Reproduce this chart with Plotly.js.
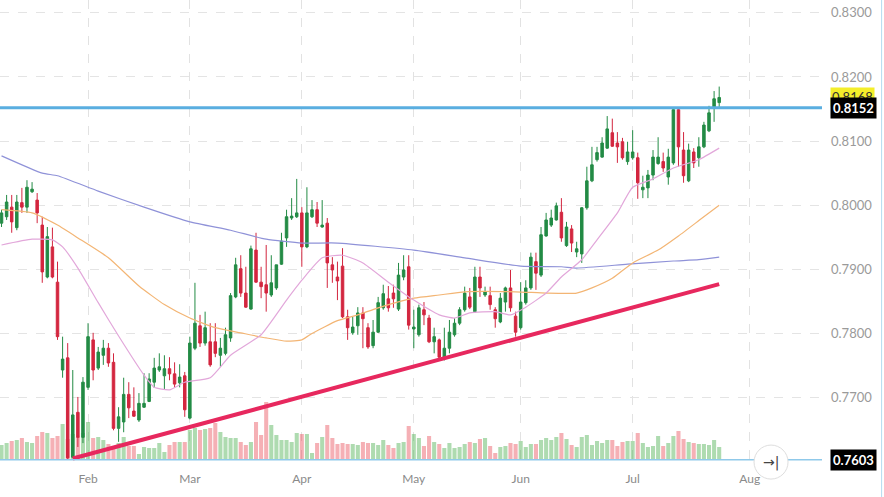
<!DOCTYPE html>
<html>
<head>
<meta charset="utf-8">
<script src="https://cdn.plot.ly/plotly-3.0.1.min.js"></script>
<style>
  html, body { margin: 0; padding: 0; background: #fff; }
  #chart { width: 884px; height: 497px; }
</style>
</head>
<body>
<div id="chart"></div>
<script>
// daily candles, one per trading day (Jan 8 .. Jul 24)
const open = [
  .7972, .7982, .7997, .7965, .8004, .7997, .8021, .8008, .7969, .7888,
  .7935, .7880, .7743, .7762, .7607, .7677, .7638, .7716, .7790, .7746,
  .7766, .7777, .7755, .7652, .7662, .7705, .7679, .7665, .7685, .7694,
  .7724, .7743, .7734, .7745, .7737, .7723, .7734, .7668, .7777, .7812,
  .7785, .7787, .7787, .7766, .7769, .7793, .7857, .7901, .7863, .7838,
  .7930, .7880, .7876, .7860, .7871, .7908, .7949, .7980, .7982, .7988,
  .7935, .7982, .7993, .7966, .7972, .7907, .7888, .7905, .7826, .7801,
  .7812, .7832, .7809, .7781, .7802, .7840, .7854, .7863, .7838, .7888,
  .7904, .7807, .7798, .7837, .7824, .7787, .7790, .7763, .7777, .7798,
  .7816, .7837, .7857, .7834, .7888, .7860, .7859, .7837, .7818, .7849,
  .7871, .7827, .7809, .7848, .7871, .7912, .7891, .7952, .7969, .7977,
  .7989, .7937, .7963, .7927, .7924, .7996, .8038, .8071, .8075, .8089,
  .8113, .8097, .8099, .8068, .8074, .8074, .8024, .8027, .8047, .8065,
  .8068, .8044, .8066, .8149, .8086, .8038, .8083, .8074, .8091, .8116,
  .8152, .8160
];
const high = [
  .7993, .8016, .8016, .8016, .8027, .8039, .8036, .8019, .7982, .7966,
  .7965, .7912, .7795, .7785, .7743, .7701, .7732, .7816, .7801, .7779,
  .7790, .7785, .7769, .7685, .7731, .7724, .7716, .7707, .7738, .7738,
  .7762, .7769, .7766, .7763, .7755, .7752, .7740, .7795, .7879, .7829,
  .7834, .7816, .7816, .7793, .7809, .7863, .7918, .7922, .7904, .7937,
  .7957, .7904, .7938, .7922, .7907, .7957, .7993, .8011, .8041, .7997,
  .8028, .8008, .8005, .8008, .7980, .7919, .7912, .7933, .7837, .7826,
  .7841, .7841, .7816, .7821, .7857, .7876, .7874, .7876, .7910, .7922,
  .7922, .7837, .7845, .7849, .7829, .7809, .7792, .7809, .7821, .7824,
  .7841, .7873, .7871, .7904, .7904, .7873, .7873, .7841, .7863, .7873,
  .7899, .7834, .7880, .7883, .7926, .7926, .7966, .7988, .7993, .8004,
  .8011, .7974, .7969, .7943, .7997, .8060, .8091, .8091, .8106, .8139,
  .8135, .8114, .8105, .8099, .8117, .8082, .8046, .8055, .8086, .8106,
  .8082, .8088, .8150, .8151, .8114, .8096, .8089, .8106, .8130, .8155,
  .8178, .8185
];
const low = [
  .7966, .7977, .7957, .7961, .7988, .7988, .8019, .7972, .7879, .7886,
  .7886, .7790, .7731, .7603, .7606, .7623, .7629, .7712, .7727, .7743,
  .7751, .7748, .7649, .7631, .7646, .7668, .7670, .7662, .7684, .7693,
  .7715, .7740, .7712, .7727, .7716, .7716, .7670, .7666, .7774, .7779,
  .7781, .7748, .7763, .7748, .7766, .7787, .7855, .7857, .7840, .7837,
  .7879, .7855, .7834, .7857, .7868, .7907, .7935, .7977, .7980, .7904,
  .7933, .7980, .7966, .7965, .7871, .7879, .7852, .7824, .7790, .7798,
  .7798, .7777, .7776, .7777, .7801, .7837, .7834, .7840, .7835, .7883,
  .7806, .7777, .7795, .7813, .7785, .7769, .7758, .7758, .7769, .7795,
  .7813, .7834, .7838, .7832, .7857, .7857, .7837, .7809, .7816, .7834,
  .7834, .7795, .7806, .7845, .7868, .7868, .7888, .7951, .7966, .7976,
  .7943, .7935, .7927, .7919, .7910, .7993, .8036, .8068, .8074, .8088,
  .8091, .8066, .8071, .8063, .8071, .8010, .8011, .8011, .8039, .8063,
  .8052, .8032, .8063, .8060, .8035, .8036, .8058, .8060, .8089, .8114,
  .8130, .8153
];
const close = [
  .7988, .8005, .7974, .8005, .7997, .8028, .8025, .7988, .7896, .7951,
  .7888, .7795, .7760, .7606, .7673, .7638, .7724, .7795, .7743, .7771,
  .7777, .7754, .7652, .7670, .7705, .7684, .7671, .7691, .7691, .7729,
  .7746, .7748, .7745, .7737, .7721, .7732, .7681, .7785, .7816, .7785,
  .7809, .7751, .7769, .7777, .7798, .7859, .7907, .7863, .7841, .7932,
  .7880, .7873, .7863, .7879, .7907, .7944, .7982, .7983, .7988, .7935,
  .7988, .7993, .7972, .7969, .7910, .7899, .7882, .7826, .7809, .7810,
  .7832, .7823, .7779, .7802, .7848, .7862, .7840, .7854, .7891, .7899,
  .7813, .7810, .7840, .7829, .7787, .7795, .7763, .7777, .7802, .7816,
  .7837, .7863, .7841, .7888, .7871, .7865, .7845, .7823, .7855, .7871,
  .7840, .7802, .7849, .7871, .7919, .7894, .7954, .7977, .7980, .7999,
  .7949, .7966, .7941, .7932, .7996, .8038, .8063, .8082, .8097, .8119,
  .8092, .8091, .8074, .8083, .8083, .8035, .8028, .8047, .8075, .8075,
  .8058, .8075, .8149, .8091, .8046, .8086, .8066, .8091, .8125, .8144,
  .8166, .8168
];
const volume = [
  14, 16, 18, 19, 21, 17, 16, 23, 27, 26,
  21, 23, 35, 20, 25, 22, 26, 37, 21, 22,
  19, 15, 12, 16, 22, 13, 13, 5, 12, 11,
  11, 16, 7, 14, 17, 17, 17, 29, 31, 29,
  30, 31, 36, 27, 22, 21, 21, 17, 14, 17,
  37, 24, 57, 34, 24, 19, 19, 17, 26, 25,
  25, 6, 16, 22, 34, 21, 15, 16, 15, 15,
  14, 17, 16, 16, 14, 19, 14, 11, 16, 17,
  33, 25, 21, 13, 23, 17, 15, 11, 16, 11,
  12, 15, 17, 16, 20, 21, 13, 6, 12, 13,
  16, 15, 18, 12, 15, 15, 19, 21, 19, 22,
  26, 20, 14, 12, 22, 24, 14, 18, 16, 19,
  19, 13, 17, 18, 18, 26, 16, 12, 13, 23,
  13, 16, 23, 28, 20, 17, 16, 15, 15, 14,
  19, 12
];

// moving averages (trading-day index, price)
const ma20X = [0, 6, 10, 12, 15, 19, 23, 28, 30, 33, 36, 41, 45, 51, 56, 59, 63, 67, 71, 76, 81, 86, 89, 92, 97, 100, 103, 107, 110, 114, 117, 121, 124, 128, 132, 137, 141];
const ma20Y = [.7938, .7947, .7946, .7935, .7902, .7848, .7796, .7735, .7716, .7712, .7724, .7731, .7766, .7798, .7852, .7883, .7918, .7922, .7910, .7880, .7852, .7829, .7824, .7832, .7834, .7829, .7841, .7863, .7888, .7915, .7946, .7988, .8028, .8041, .8058, .8071, .8089];
const ma50X = [0, 6, 11, 15, 21, 27, 32, 37, 42, 47, 52, 56, 59, 61, 66, 70, 74, 81, 86, 91, 101, 107, 113, 116, 120, 124, 129, 133, 137, 141];
const ma50Y = [.7993, .7988, .7969, .7949, .7918, .7874, .7845, .7824, .7809, .7801, .7793, .7788, .7790, .7800, .7820, .7829, .7840, .7855, .7860, .7865, .7865, .7863, .7863, .7871, .7886, .7910, .7930, .7952, .7976, .8000];
const ma200X = [0, 8, 11, 19, 28, 37, 45, 52, 59, 66, 81, 91, 102, 110, 113, 123, 132, 137, 141];
const ma200Y = [.8077, .8050, .8046, .8022, .7997, .7974, .7961, .7947, .7941, .7941, .7930, .7918, .7905, .7904, .7902, .7908, .7913, .7915, .7919];

// support trend line and levels
const trendX = [14, 141];
const trendY = [.7605, .7877];
const resistance = 0.8152;
const lowLevel = 0.7603;
const lastPrice = 0.8168;

// axis ticks
const monthIdx = [17, 37, 59, 81, 102, 124, 147];
const monthLabels = ['Feb', 'Mar', 'Apr', 'May', 'Jun', 'Jul', 'Aug'];
const priceTicks = [0.77, 0.78, 0.79, 0.80, 0.81, 0.82, 0.83];

const days = close.map((_, k) => k);
const UP = '#238b45';
const DOWN = '#d3263f';

const volColors = close.map((c, k) => c >= open[k] ? 'rgba(76,175,80,0.45)' : 'rgba(229,57,70,0.4)');

const traceVolume = {
    type: 'bar',
    x: days,
    y: volume,
    yaxis: 'y',
    marker: { color: volColors, line: { width: 0 } },
    hoverinfo: 'skip',
    showlegend: false
};

function maTrace(x, y, color) {
    return {
        type: 'scatter',
        mode: 'lines',
        x, y,
        yaxis: 'y2',
        line: { color, width: 1.2, shape: 'spline', smoothing: 0.5 },
        hoverinfo: 'skip',
        showlegend: false
    };
}

const traceCandles = {
    type: 'candlestick',
    x: days,
    open, high, low, close,
    yaxis: 'y2',
    increasing: { line: { color: UP, width: 1 }, fillcolor: UP },
    decreasing: { line: { color: DOWN, width: 1 }, fillcolor: DOWN },
    whiskerwidth: 0,
    hoverinfo: 'skip',
    showlegend: false
};

const traceTrend = {
    type: 'scatter',
    mode: 'lines',
    x: trendX,
    y: trendY,
    yaxis: 'y2',
    line: { color: '#e7285e', width: 4 },
    hoverinfo: 'skip',
    showlegend: false
};

const labelFont = { family: 'Lato, sans-serif', size: 13, color: '#fff' };

const layout = {
    width: 884,
    height: 497,
    margin: { l: 0, r: 62, t: 0, b: 34 },
    paper_bgcolor: '#fff',
    plot_bgcolor: '#fff',
    showlegend: false,
    hovermode: false,
    font: { family: 'Lato, sans-serif' },
    xaxis: {
        range: [-0.3, 161.2],
        tickvals: monthIdx,
        ticktext: monthLabels,
        tickfont: { size: 12, color: '#8a8a8a', family: 'Lato, sans-serif' },
        ticks: 'outside',
        ticklen: 5,
        tickcolor: 'rgba(0,0,0,0)',
        showgrid: true,
        gridcolor: '#e2e2e2',
        griddash: 'dash',
        zeroline: false,
        showline: false,
        rangeslider: { visible: false },
        fixedrange: true
    },
    yaxis: {
        range: [-4, 459],
        visible: false,
        showgrid: false,
        zeroline: false,
        fixedrange: true
    },
    yaxis2: {
        overlaying: 'y',
        side: 'right',
        range: [0.7598, 0.8320],
        tickvals: priceTicks,
        tickformat: '.4f',
        tickfont: { size: 13, color: '#9a9a9a', family: 'Lato, sans-serif' },
        ticklabelstandoff: 8,
        showgrid: true,
        gridcolor: '#e4e4e4',
        griddash: 'dash',
        zeroline: false,
        showline: false,
        fixedrange: true
    },
    shapes: [
        {
            type: 'line', xref: 'paper', yref: 'y2',
            x0: 0, x1: 1, y0: lowLevel, y1: lowLevel,
            line: { color: '#8fc9ea', width: 1.5 }
        },
        {
            type: 'line', xref: 'paper', yref: 'y2',
            x0: 0, x1: 1, y0: resistance, y1: resistance,
            line: { color: '#5aaee0', width: 3 }
        },
        {
            type: 'line', xref: 'paper', yref: 'paper',
            x0: 1.0725, x1: 1.0725, y0: -0.08, y1: 1,
            line: { color: '#b3dbf1', width: 1 }
        },
        {
            type: 'circle', xref: 'paper', yref: 'paper',
            xsizemode: 'pixel', ysizemode: 'pixel',
            xanchor: 0.938, yanchor: 0.002,
            x0: -17, x1: 17, y0: -17, y1: 17,
            fillcolor: '#fff',
            line: { color: '#dedede', width: 1 }
        }
    ],
    annotations: [
        {
            xref: 'paper', yref: 'y2', x: 1, y: lastPrice,
            xanchor: 'left', yanchor: 'middle', xshift: 8,
            text: lastPrice.toFixed(4), showarrow: false,
            font: { family: 'Lato, sans-serif', size: 13, color: '#333' },
            bgcolor: '#f4ee2a', borderpad: 1
        },
        {
            xref: 'paper', yref: 'y2', x: 1, y: resistance,
            xanchor: 'left', yanchor: 'middle', xshift: 8,
            text: '<b>' + resistance.toFixed(4) + '</b>', showarrow: false,
            font: labelFont, bgcolor: '#000', borderpad: 2
        },
        {
            xref: 'paper', yref: 'y2', x: 1, y: lowLevel,
            xanchor: 'left', yanchor: 'middle', xshift: 8,
            text: '<b>' + lowLevel.toFixed(4) + '</b>', showarrow: false,
            font: labelFont, bgcolor: '#000', borderpad: 2
        },
        {
            xref: 'paper', yref: 'paper', x: 0.938, y: 0.002,
            xanchor: 'center', yanchor: 'middle',
            text: '→|', showarrow: false,
            font: { family: 'DejaVu Sans, sans-serif', size: 14, color: '#444' }
        }
    ]
};

const traces = [
    traceVolume,
    maTrace(ma200X, ma200Y, '#8f92d8'),
    maTrace(ma50X, ma50Y, '#f3b574'),
    maTrace(ma20X, ma20Y, '#e2a7da'),
    traceCandles,
    traceTrend
];

Plotly.newPlot('chart', traces, layout, { displayModeBar: false, staticPlot: true });
</script>
</body>
</html>
